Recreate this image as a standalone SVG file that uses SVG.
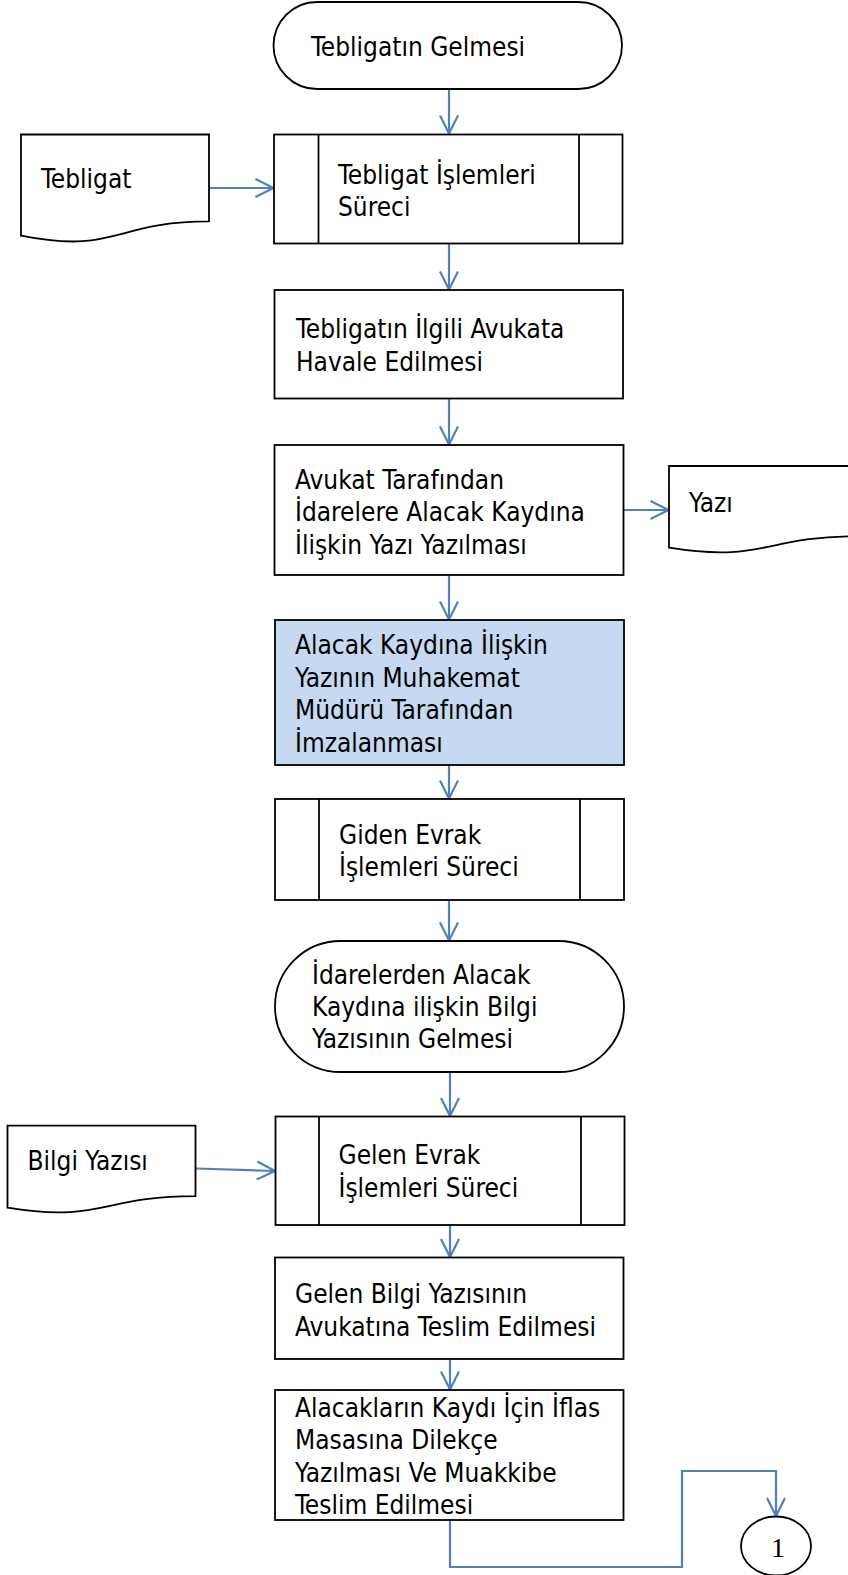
<svg xmlns="http://www.w3.org/2000/svg" width="848" height="1575" viewBox="0 0 848 1575">
<defs>
<style>
.s{fill:#fff;stroke:#000;stroke-width:1.8}
.b{fill:#C6D9F1;stroke:#000;stroke-width:1.8}
.l{fill:none;stroke:#000;stroke-width:1.8}
.t{font-family:'DejaVu Sans Condensed','Liberation Sans',sans-serif;font-size:26px;fill:#000}
.n{font-family:'Liberation Serif',serif;font-size:28px;fill:#000;text-anchor:middle}
.c{fill:none;stroke:#4F81BD;stroke-width:2.2}
</style>
<marker id="ah" viewBox="0 0 20 20" markerWidth="20" markerHeight="20" refX="19" refY="10" orient="auto" markerUnits="userSpaceOnUse">
<path d="M1,1 L19,10 L1,19" fill="none" stroke="#4F81BD" stroke-width="2.2"/>
</marker>
</defs>
<rect width="848" height="1575" fill="#fff"/>

<g id="connectors">
<line class="c" x1="449" y1="89" x2="449" y2="133.5" marker-end="url(#ah)"/>
<line class="c" x1="209" y1="188" x2="273.5" y2="188" marker-end="url(#ah)"/>
<line class="c" x1="449" y1="243.5" x2="449" y2="289.5" marker-end="url(#ah)"/>
<line class="c" x1="449" y1="398.5" x2="449" y2="444.5" marker-end="url(#ah)"/>
<line class="c" x1="623.5" y1="510" x2="668.5" y2="510" marker-end="url(#ah)"/>
<line class="c" x1="449" y1="575" x2="449" y2="619.5" marker-end="url(#ah)"/>
<line class="c" x1="449" y1="765" x2="449" y2="798.5" marker-end="url(#ah)"/>
<line class="c" x1="449" y1="900" x2="449" y2="940.5" marker-end="url(#ah)"/>
<line class="c" x1="450" y1="1072" x2="450" y2="1116" marker-end="url(#ah)"/>
<line class="c" x1="196" y1="1168.5" x2="275" y2="1171" marker-end="url(#ah)"/>
<line class="c" x1="450" y1="1225" x2="450" y2="1257" marker-end="url(#ah)"/>
<line class="c" x1="450" y1="1359" x2="450" y2="1389.5" marker-end="url(#ah)"/>
<polyline class="c" points="450,1520 450,1567 682,1567 682,1471 776,1471 776,1516" marker-end="url(#ah)"/>
</g>

<g id="n1">
<rect class="s" x="273.5" y="2" width="348.5" height="87" rx="43.5"/>
<text class="t" x="311" y="56">Tebligatın Gelmesi</text>
</g>

<g id="n2">
<rect class="s" x="274" y="134.5" width="348.5" height="109"/>
<line class="l" x1="318.5" y1="134.5" x2="318.5" y2="243.5"/>
<line class="l" x1="579" y1="134.5" x2="579" y2="243.5"/>
<text class="t" x="338" y="184">Tebligat İşlemleri</text>
<text class="t" x="338" y="216">Süreci</text>
</g>

<g id="d1">
<path class="s" d="M21,134.5 H209 V221.4 C115,221.4 115,254.6 21,235.7 Z"/>
<text class="t" x="41" y="188">Tebligat</text>
</g>

<g id="n3">
<rect class="s" x="274.5" y="290" width="348.5" height="108.5"/>
<text class="t" x="296" y="338">Tebligatın İlgili Avukata</text>
<text class="t" x="296" y="371">Havale Edilmesi</text>
</g>

<g id="n4">
<rect class="s" x="274.5" y="445" width="349" height="130"/>
<text class="t" x="295" y="489">Avukat Tarafından</text>
<text class="t" x="295" y="521">İdarelere Alacak Kaydına</text>
<text class="t" x="295" y="554">İlişkin Yazı Yazılması</text>
</g>

<g id="d2">
<path class="s" d="M669,466 H859 V536.2 C764,536.2 764,562.9 669,547.7 Z"/>
<text class="t" x="689" y="512">Yazı</text>
</g>

<g id="n5">
<rect class="b" x="275" y="620" width="349" height="145"/>
<text class="t" x="295" y="654">Alacak Kaydına İlişkin</text>
<text class="t" x="295" y="687">Yazının Muhakemat</text>
<text class="t" x="295" y="719">Müdürü Tarafından</text>
<text class="t" x="295" y="752">İmzalanması</text>
</g>

<g id="n6">
<rect class="s" x="275" y="799" width="349" height="101"/>
<line class="l" x1="319" y1="799" x2="319" y2="900"/>
<line class="l" x1="580" y1="799" x2="580" y2="900"/>
<text class="t" x="339" y="844">Giden Evrak</text>
<text class="t" x="339" y="876">İşlemleri Süreci</text>
</g>

<g id="n7">
<rect class="s" x="275" y="941" width="349" height="131" rx="65.5"/>
<text class="t" x="312" y="984">İdarelerden Alacak</text>
<text class="t" x="312" y="1016">Kaydına ilişkin Bilgi</text>
<text class="t" x="312" y="1048">Yazısının Gelmesi</text>
</g>

<g id="n8">
<rect class="s" x="275.5" y="1116.5" width="349" height="108.5"/>
<line class="l" x1="319" y1="1116.5" x2="319" y2="1225"/>
<line class="l" x1="581" y1="1116.5" x2="581" y2="1225"/>
<text class="t" x="338.5" y="1164">Gelen Evrak</text>
<text class="t" x="338.5" y="1197">İşlemleri Süreci</text>
</g>

<g id="d3">
<path class="s" d="M7.5,1125.7 H195.5 V1196.1 C101.5,1196.1 101.5,1223 7.5,1207.7 Z"/>
<text class="t" x="27.5" y="1170">Bilgi Yazısı</text>
</g>

<g id="n9">
<rect class="s" x="275" y="1257.5" width="348.5" height="101.5"/>
<text class="t" x="295" y="1303">Gelen Bilgi Yazısının</text>
<text class="t" x="295" y="1336">Avukatına Teslim Edilmesi</text>
</g>

<g id="n10">
<rect class="s" x="275" y="1390" width="348.5" height="130"/>
<text class="t" x="295" y="1417">Alacakların Kaydı İçin İflas</text>
<text class="t" x="295" y="1449">Masasına Dilekçe</text>
<text class="t" x="295" y="1482">Yazılması Ve Muakkibe</text>
<text class="t" x="295" y="1514">Teslim Edilmesi</text>
</g>

<g id="c1">
<ellipse class="s" cx="776" cy="1546" rx="35" ry="29.5"/>
<text class="n" x="778" y="1557">1</text>
</g>
</svg>
